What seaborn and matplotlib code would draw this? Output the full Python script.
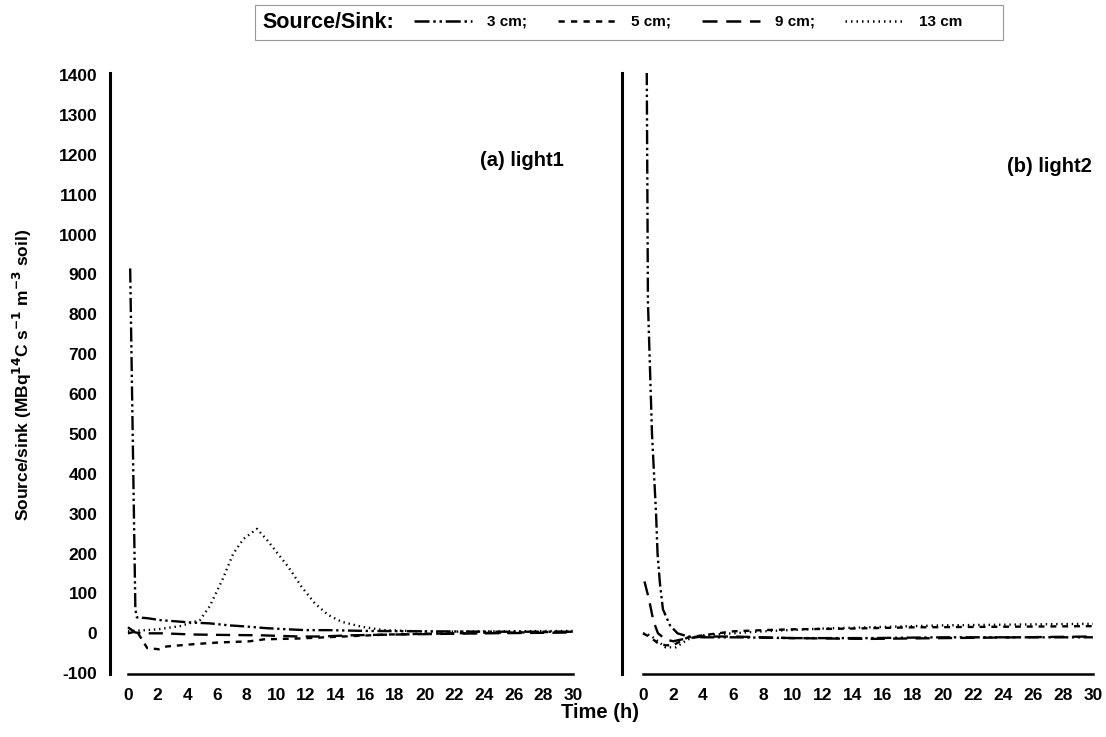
import numpy as np
import pandas as pd
import seaborn as sns
import matplotlib
matplotlib.use("Agg")
from matplotlib import pyplot as plt
from matplotlib.lines import Line2D
from matplotlib.patches import Rectangle

# Series, (a) light1
a_t_3cm = [0.15, 0.5, 0.6, 1.3, 2.2, 4.3, 5.5, 6.8, 8.0, 9.3, 10.8, 12.0, 13.5, 16.0, 20.0, 25.0, 30.0]
a_v_3cm = [915, 60, 40, 38, 33, 27, 25, 20, 17, 13, 10, 8, 8, 6, 5, 4, 4]
a_t_5cm = [0.0, 0.6, 1.3, 2.1, 2.6, 4.5, 6.1, 8.2, 9.2, 11.5, 14.5, 17.5, 22.0, 26.0, 30.0]
a_v_5cm = [0, 5, -37, -40, -33, -27, -23, -20, -15, -13, -8, -3, 0, 2, 4]
a_t_9cm = [0.0, 0.5, 1.0, 2.3, 4.4, 6.3, 9.0, 11.5, 13.0, 15.0, 18.0, 24.0, 30.0]
a_v_9cm = [15, 2, 0, 0, -3, -4, -5, -8, -8, -5, -3, 0, 2]
a_t_13cm = [0.0, 2.0, 3.5, 4.85, 5.5, 6.4, 7.1, 7.8, 8.7, 9.4, 10.1, 10.8, 11.7, 12.6, 13.5, 14.4, 15.7, 17.2, 20.6, 25.0, 30.0]
a_v_13cm = [5, 10, 18, 33, 67, 137, 200, 237, 262, 233, 200, 167, 117, 75, 46, 29, 17, 8, 4, 5, 6]

# (b) light2
b_t_3cm = [0.25, 0.33, 0.6, 0.87, 0.97, 1.13, 1.33, 1.8, 2.3, 3.0, 4.0, 6.0, 10.0, 15.0, 20.0, 25.0, 30.0]
b_v_3cm = [1410, 830, 500, 300, 200, 125, 60, 20, 0, -8, -10, -10, -12, -12, -10, -10, -10]
b_t_5cm = [0.0, 0.5, 1.0, 1.5, 2.0, 3.0, 4.0, 6.0, 8.0, 10.0, 14.0, 18.0, 22.0, 26.0, 30.0]
b_v_5cm = [0, -10, -25, -30, -30, -10, -5, 5, 8, 10, 12, 15, 16, 17, 18]
b_t_9cm = [0.1, 0.4, 0.7, 1.0, 1.5, 2.0, 3.0, 4.0, 6.0, 10.0, 15.0, 20.0, 25.0, 30.0]
b_v_9cm = [130, 85, 30, 0, -15, -20, -12, -8, -8, -12, -14, -12, -10, -8]
b_t_13cm = [0.0, 0.5, 1.0, 1.5, 2.2, 3.0, 4.0, 6.0, 8.0, 12.0, 16.0, 20.0, 25.0, 30.0]
b_v_13cm = [0, -5, -20, -35, -35, -15, -5, 0, 5, 12, 16, 20, 22, 24]

depths = ["3 cm", "5 cm", "9 cm", "13 cm"]
x_ticks = list(range(0, 31, 2))
y_ticks = list(range(-100, 1401, 100))

panels = {
    "a": [(a_t_3cm, a_v_3cm), (a_t_5cm, a_v_5cm), (a_t_9cm, a_v_9cm), (a_t_13cm, a_v_13cm)],
    "b": [(b_t_3cm, b_v_3cm), (b_t_5cm, b_v_5cm), (b_t_9cm, b_v_9cm), (b_t_13cm, b_v_13cm)],
}

rows = []
for panel, series in panels.items():
    for depth, (ts, vs) in zip(depths, series):
        for t, v in zip(ts, vs):
            rows.append((panel, depth, t, v))
df = pd.DataFrame(rows, columns=["panel", "depth", "time", "value"])

dash_map = {"3 cm": (6, 1.5, 1, 1.5, 1, 1.5), "5 cm": (2.5, 2.5), "9 cm": (6, 3.5), "13 cm": (0.6, 1.6)}

sns.set_style("white")
plt.rcParams["font.family"] = ["Liberation Sans", "DejaVu Sans"]
plt.rcParams["font.weight"] = "bold"
plt.rcParams["text.color"] = "black"
plt.rcParams["xtick.color"] = "black"
plt.rcParams["ytick.color"] = "black"
plt.rcParams["axes.edgecolor"] = "black"
plt.rcParams["axes.unicode_minus"] = False

fig = plt.figure(figsize=(11.06, 7.37), dpi=100)
ax_a = fig.add_axes([110 / 1106, 1 - 674 / 737, 468 / 1106, 601 / 737])
ax_b = fig.add_axes([622 / 1106, 1 - 674 / 737, 475 / 1106, 601 / 737])

for ax, panel, xl in [(ax_a, "a", (-1.21, 30.34)), (ax_b, "b", (-1.4, 30.27))]:
    sns.lineplot(data=df[df.panel == panel], x="time", y="value", style="depth",
                 style_order=depths, dashes=dash_map, color="black",
                 estimator=None, sort=False, legend=False, linewidth=1.7, ax=ax)
    ax.set_xlim(*xl)
    ax.set_ylim(-102, 1405)
    ax.set_xticks(x_ticks)
    ax.set_yticks(y_ticks)
    for s in ["top", "right"]:
        ax.spines[s].set_visible(False)
    ax.spines["left"].set_linewidth(2.2)
    ax.spines["bottom"].set_linewidth(1.8)
    ax.spines["bottom"].set_bounds(0, 30)
    ax.tick_params(axis="x", direction="in", length=8, width=1.5, pad=10, labelsize=12.5)
    ax.tick_params(axis="y", direction="in", length=5, width=1.5, pad=9, labelsize=12.5)
    ax.set_xlabel("")
    ax.set_ylabel("")
    for lab in ax.get_xticklabels() + ax.get_yticklabels():
        lab.set_fontweight("bold")

ax_b.set_yticklabels([])

ax_a.text(0.97, 0.855, "(a) light1", transform=ax_a.transAxes, ha="right", va="center",
          fontsize=14.5, fontweight="bold")
ax_b.text(0.99, 0.845, "(b) light2", transform=ax_b.transAxes, ha="right", va="center",
          fontsize=14.5, fontweight="bold")

fig.text(600 / 1106, 1 - 713 / 737, "Time (h)", ha="center", va="center",
         fontsize=14.5, fontweight="bold")
fig.text(22 / 1106, 1 - 375 / 737, "Source/sink (MBq$^{\\mathbf{14}}$C s$^{\\mathbf{-1}}$ m$^{\\mathbf{-3}}$ soil)",
         rotation=90, ha="center", va="center", fontsize=12.5, fontweight="bold")

# legend box at the top
fig.patches.append(Rectangle((255 / 1106, 1 - 40 / 737), 748 / 1106, 35 / 737,
                             transform=fig.transFigure, fill=False, edgecolor="#999999",
                             linewidth=0.8))
fig.text(262 / 1106, 1 - 22 / 737, "Source/Sink:", ha="left", va="center",
         fontsize=15.5, fontweight="bold")
handles = [Line2D([], [], color="black", linewidth=1.8, dashes=dash_map[d]) for d in depths]
labels = ["3 cm;", "5 cm;", "9 cm;", "13 cm"]
fig.legend(handles, labels, ncol=4, frameon=False, loc="center",
           bbox_to_anchor=(688 / 1106, 1 - 22 / 737), handlelength=3.8,
           columnspacing=2.0, handletextpad=1.0, prop={"size": 11, "weight": "bold"})

fig.savefig("out.png", dpi=100)
